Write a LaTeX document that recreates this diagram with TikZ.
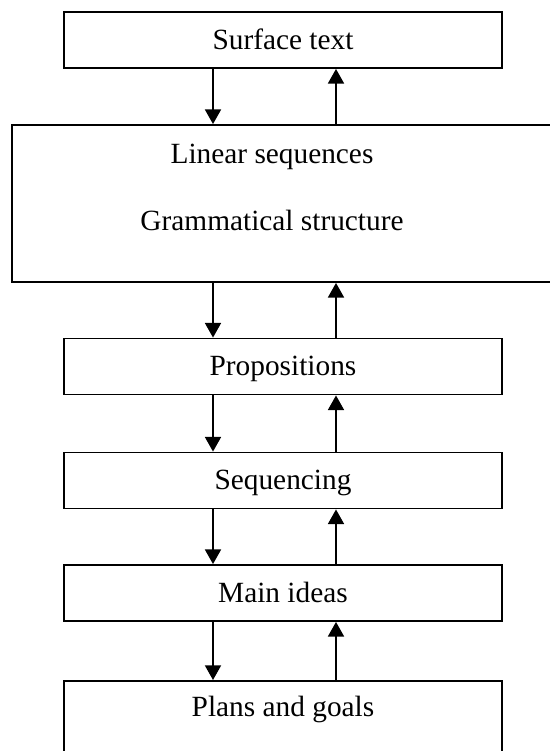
\documentclass[tikz,border=0pt]{standalone}
\usepackage{fontspec}
\setmainfont{Liberation Serif}
\usetikzlibrary{arrows.meta}

\begin{document}
\begin{tikzpicture}[x=0.75pt,y=-0.75pt]
% Level style
\tikzset{
    txt/.style={font=\fontsize{22}{26}\selectfont},
    level/.style={txt,draw,line width=1.4pt,minimum width=328.5pt,minimum height=42pt,inner sep=0pt,text height=16.5pt,text depth=3pt},
    flow/.style={line width=1.4pt,-{Triangle[length=11pt,width=12pt]}}
}
\useasboundingbox (0,0) rectangle (550,751);
\clip (0,0) rectangle (550,751);
% Levels
\node[level] (surf) at (283,40){Surface text};
\node[level,minimum width=411pt,minimum height=117.75pt] (lin) at (286,203.5){};
\node[txt,anchor=base] (lin1) at (272,163){Linear sequences};
\node[txt,anchor=base] (lin2) at (272,230){Grammatical structure};
\node[level] (prop) at (283,366.5){Propositions};
\node[level] (seq) at (283,480.5){Sequencing};
\node[level] (main) at (283,593){Main ideas};
\node[level,anchor=north,inner ysep=10.5pt,text depth=60pt] (plan) at (283,680){Plans and goals};
% Arrows
\coordinate (dn) at (213,0);
\coordinate (up) at (336,0);
\draw[flow] (surf.south -| dn) -- (lin.north -| dn);
\draw[flow] (lin.north -| up) -- (surf.south -| up);
\draw[flow] (lin.south -| dn) -- (prop.north -| dn);
\draw[flow] (prop.north -| up) -- (lin.south -| up);
\draw[flow] (prop.south -| dn) -- (seq.north -| dn);
\draw[flow] (seq.north -| up) -- (prop.south -| up);
\draw[flow] (seq.south -| dn) -- (main.north -| dn);
\draw[flow] (main.north -| up) -- (seq.south -| up);
\draw[flow] (main.south -| dn) -- (plan.north -| dn);
\draw[flow] (plan.north -| up) -- (main.south -| up);
\end{tikzpicture}
\end{document}
